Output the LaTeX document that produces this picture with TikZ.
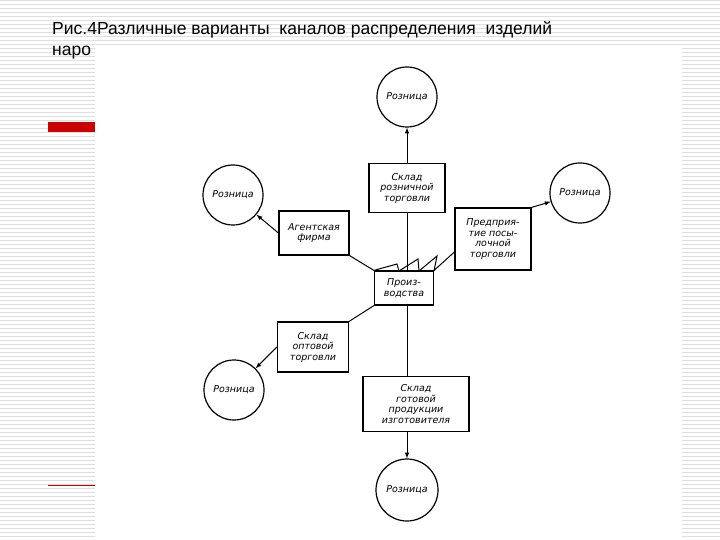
\documentclass[tikz,border=0pt]{standalone}
\usepackage{fontspec}
\setmainfont{DejaVu Sans}
\newfontfamily\titlefont{Liberation Sans}
\begin{document}
\begin{tikzpicture}[x=1pt,y=-1pt,
  box/.style={draw,line width=1.2pt,fill=white,align=center,font=\fontsize{9.5}{10.5}\selectfont\itshape,inner sep=1pt},
  circ/.style={draw,line width=1.2pt,circle,minimum size=60pt,inner sep=0pt,font=\fontsize{9.5}{10}\selectfont\itshape},
  conn/.style={line width=1pt},
  arr/.style={line width=1pt,-latex}]
\useasboundingbox (0,0) rectangle (720,540);
\fill[white] (0,0) rectangle (720,540);
\foreach \y in {0,4,...,540} \draw[gray!25,line width=0.8pt] (0,\y) -- (720,\y);
\node[anchor=west,font=\titlefont\fontsize{17.5}{19}\selectfont,inner sep=0pt] (t1) at (52,30) {Рис.4Различные варианты\ \ каналов распределения\ \ изделий};
\node[anchor=west,font=\titlefont\fontsize{17.5}{19}\selectfont,inner sep=0pt] (t2) at (52,53) {наро};
\fill[red!80!black] (48,122) rectangle (95,132);
\draw[red!80!black,line width=1pt] (48,485) -- (95,485);
\fill[white] (95,45) rectangle (682,540);
% nodes
\node[circ] (rt) at (407,97) {Розница};
\node[circ] (rl) at (233,195) {Розница};
\node[circ] (rr) at (580,193) {Розница};
\node[circ] (rbl) at (234,390) {Розница};
\node[circ,minimum size=62pt] (rb) at (407,490) {Розница};
\node[box,minimum width=76pt,minimum height=49pt] (sr) at (407,188) {Склад\\розничной\\торговли};
\node[box,minimum width=70pt,minimum height=44pt] (af) at (314,233) {Агентская\\фирма};
\node[box,minimum width=76pt,minimum height=62pt] (pp) at (493,239) {Предприя-\\тие посы-\\лочной\\торговли};
\node[box,minimum width=59pt,minimum height=34pt] (pr) at (404,288) {Произ-\\водства};
\node[box,minimum width=71pt,minimum height=50pt] (so) at (313,347) {Склад\\оптовой\\торговли};
\node[box,minimum width=106pt,minimum height=55pt] (sg) at (416,404) {Склад\\готовой\\продукции\\изготовителя};
% factory roof
\draw[line width=1pt] (pr.north west) -- (397,264) -- (399,271);
\draw[line width=1pt] (399,271) -- (418,259) -- (419,271);
\draw[line width=1pt] (419,271) -- (437,256) -- (434,271);
% connectors
\draw[conn] (pr.north -| sr) -- (sr.south);
\draw[arr] (sr.north) -- (rt.south);
\draw[conn] (pr.south -| sr) -- (sg.north -| sr);
\draw[arr] (sg.south -| rb) -- (rb.north);
\draw[conn] (pr.north west) -- (af.south east);
\draw[arr] (af.west) -- (rl);
\draw[conn] (pr.north east) -- (pp.west |- 0,252);
\draw[arr] (pp.north east) -- (rr);
\draw[conn] (pr.south west) -- (so.north east);
\draw[arr] (so.west) -- (rbl);
\end{tikzpicture}
\end{document}
